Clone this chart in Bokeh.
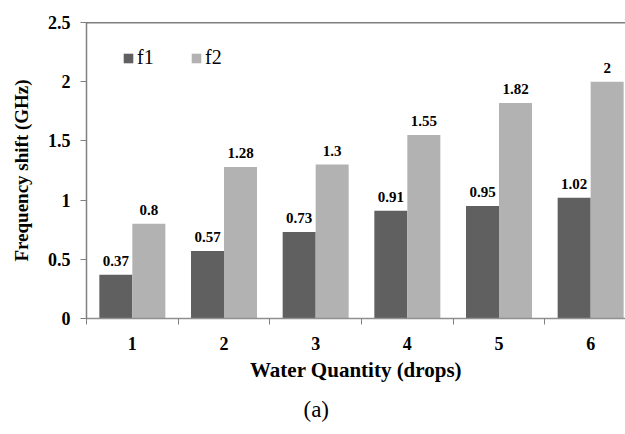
import numpy as np
from bokeh.plotting import figure
from bokeh.models import ColumnDataSource, FixedTicker, Span, Title, Legend, LegendItem, Range1d
from bokeh.embed import file_html
from bokeh.resources import INLINE

categories = ["1", "2", "3", "4", "5", "6"]
f1 = [0.37, 0.57, 0.73, 0.91, 0.95, 1.02]
f2 = [0.8, 1.28, 1.3, 1.55, 1.82, 2]
y_ticks = [0, 0.5, 1, 1.5, 2, 2.5]
y_tick_labels = ["0", "0.5", "1", "1.5", "2", "2.5"]

FONT = "Liberation Serif"
C1 = "#606060"
C2 = "#b2b2b2"

centers = np.arange(len(categories)) + 0.5
bw = 0.36
src1 = ColumnDataSource(dict(x=centers - bw / 2, top=f1, lab=[f"{v:g}" for v in f1]))
src2 = ColumnDataSource(dict(x=centers + bw / 2, top=f2, lab=[f"{v:g}" for v in f2]))

p = figure(width=625, height=434, output_backend="svg", toolbar_location=None,
           x_range=Range1d(0, 5.88), y_range=Range1d(0, 2.5),
           min_border_left=86, min_border_right=0, min_border_top=22, min_border_bottom=116)
p.outline_line_color = None
p.xgrid.visible = False
p.ygrid.visible = False

r1 = p.vbar(x="x", top="top", width=bw, source=src1, fill_color=C1, line_color=None)
r2 = p.vbar(x="x", top="top", width=bw, source=src2, fill_color=C2, line_color=None)

for s in (src1, src2):
    p.text(x="x", y="top", text="lab", source=s, text_align="center", text_baseline="bottom",
           y_offset=-9, text_font={"value": FONT}, text_font_style="bold",
           text_font_size="15px", text_color="black")

p.add_layout(Span(location=2.5, dimension="width", line_color="black", line_width=1.5))

# axes
xa = p.xaxis[0]
xa.ticker = FixedTicker(ticks=list(centers), minor_ticks=list(range(len(categories) + 1)))
xa.major_label_overrides = {float(c): cat for c, cat in zip(centers, categories)}
xa.major_tick_line_color = None
xa.minor_tick_in = 0
xa.minor_tick_out = 6
xa.minor_tick_line_color = "#808080"
xa.axis_line_color = "#909090"
xa.axis_line_width = 1.5
xa.major_label_text_font = FONT
xa.major_label_text_font_style = "bold"
xa.major_label_text_font_size = "18px"
xa.major_label_text_color = "black"
xa.major_label_standoff = 12
xa.axis_label = "Water Quantity (drops)"
xa.axis_label_text_font = FONT
xa.axis_label_text_font_style = "bold"
xa.axis_label_text_font_size = "21px"
xa.axis_label_text_color = "black"
xa.axis_label_standoff = 5

ya = p.yaxis[0]
ya.ticker = FixedTicker(ticks=y_ticks)
ya.major_label_overrides = {float(t): l for t, l in zip(y_ticks, y_tick_labels)}
ya.minor_tick_line_color = None
ya.major_tick_in = 0
ya.major_tick_out = 6
ya.major_tick_line_color = "#808080"
ya.axis_line_color = "#808080"
ya.axis_line_width = 1.5
ya.major_label_text_font = FONT
ya.major_label_text_font_style = "bold"
ya.major_label_text_font_size = "18px"
ya.major_label_text_color = "black"
ya.major_label_standoff = 10
ya.axis_label = "Frequency shift (GHz)"
ya.axis_label_text_font = FONT
ya.axis_label_text_font_style = "bold"
ya.axis_label_text_font_size = "19px"
ya.axis_label_text_color = "black"
ya.axis_label_standoff = 13

legend = Legend(items=[LegendItem(label="f1", renderers=[r1]), LegendItem(label="f2", renderers=[r2])],
                orientation="horizontal", location=(36, 249), padding=0, margin=0,
                glyph_width=12, glyph_height=12, label_standoff=3, spacing=33,
                label_text_font=FONT, label_text_font_size="20px", label_text_color="black",
                background_fill_alpha=0, border_line_color=None)
p.add_layout(legend)

p.add_layout(Title(text="(a)", align="left", offset=217, standoff=20, vertical_align="bottom",
                   text_font=FONT, text_font_size="23px", text_font_style="normal",
                   text_color="black"), "below")

open("out.html", "w").write(file_html(p, INLINE))
